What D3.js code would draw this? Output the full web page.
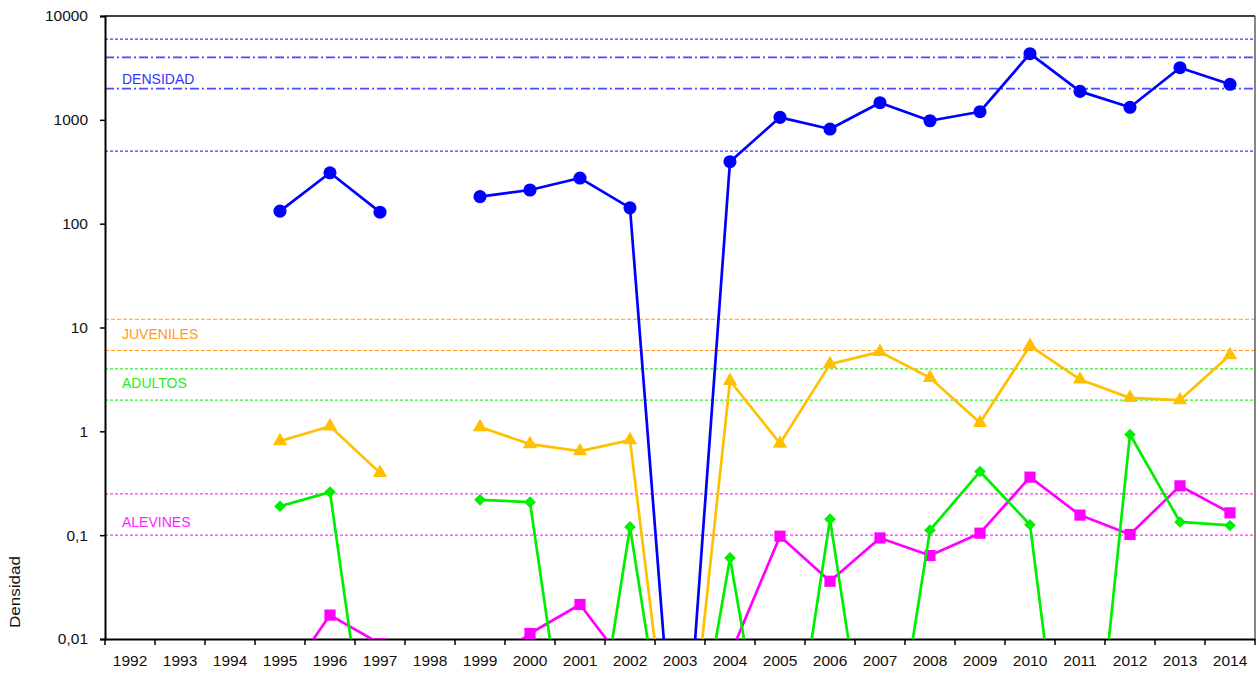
<!DOCTYPE html>
<html>
<head>
<meta charset="utf-8">
<script src="https://cdn.jsdelivr.net/npm/d3@7"></script>
<style>
  html, body { margin: 0; padding: 0; background: #fff; }
  svg { display: block; font-family: "Liberation Sans", Arial, sans-serif; }
</style>
</head>
<body>
<svg id="chart" width="1259" height="673"></svg>
<script>
// Years on the category axis
const years = ["1992","1993","1994","1995","1996","1997","1998","1999","2000","2001","2002","2003",
               "2004","2005","2006","2007","2008","2009","2010","2011","2012","2013","2014"];

// Densities per year (null = no sampling)
const densidad = [null, null, null, 132, 309, 129, null, 182, 211, 275, 142, 0.0001,
                  395, 1057, 815, 1462, 980, 1197, 4335, 1881, 1320, 3177, 2198];
const juveniles = [null, null, null, 0.805, 1.12, 0.398, null, 1.10, 0.753, 0.644, 0.823, 0.0001,
                   3.07, 0.764, 4.44, 5.83, 3.28, 1.21, 6.66, 3.16, 2.10, 2.0, 5.42];
const adultos = [null, null, null, 0.19, 0.26, 0.0001, null, 0.219, 0.208, 0.0001, 0.12, 0.0001,
                 0.0604, 0.0001, 0.1426, 0.0001, 0.1117, 0.41, 0.126, 0.00002, 0.933, 0.134, 0.124];
const alevines = [null, null, null, 0.0034, 0.017, 0.009, null, 0.005, 0.0113, 0.0215, 0.005, 0.0001,
                  0.007, 0.0978, 0.036, 0.094, 0.0637, 0.1045, 0.362, 0.156, 0.1016, 0.2985, 0.164];

// Reference levels for each class
const refDensidad = [6000, 4000, 2000, 500];
const refJuveniles = [12, 6];
const refAdultos = [4, 2];
const refAlevines = [0.25, 0.1];

// Y axis tick values and their labels
const yTicks = [0.01, 0.1, 1, 10, 100, 1000, 10000];
const yTickLabels = ["0,01", "0,1", "1", "10", "100", "1000", "10000"];

const svg = d3.select("#chart");
const pLeft = 105, pRight = 1255, pTop = 16, pBottom = 639;
const font = "'Liberation Sans', Arial, sans-serif";

const x = d3.scaleBand().domain(years).range([pLeft, pRight]).padding(0);
const y = d3.scaleLog().domain([0.01, 10000]).range([pBottom, pTop]);

svg.append("defs").append("clipPath").attr("id", "plot")
  .append("rect").attr("x", pLeft).attr("y", pTop)
  .attr("width", pRight - pLeft).attr("height", pBottom - pTop);

// Reference lines
function refLines(vals, color, dash, width) {
  svg.append("g").selectAll("line").data(vals).join("line")
    .attr("x1", pLeft).attr("x2", pRight)
    .attr("y1", d => y(d)).attr("y2", d => y(d))
    .attr("stroke", color).attr("stroke-width", width)
    .attr("stroke-dasharray", dash);
}
refLines([refDensidad[0], refDensidad[3]], "#3a3aff", "3,2", 1.3);
refLines([refDensidad[1], refDensidad[2]], "#4a4aff", "9,3,2,3", 1.7);
refLines(refJuveniles, "#ff9a1a", "4,2", 1.1);
refLines(refAdultos, "#33ee33", "3,2", 1.3);
refLines(refAlevines, "#ff33ff", "3,2", 1.3);

// Reference labels
const labels = [
  {t: "DENSIDAD", v: 2000, c: "#3333ff", dy: -5},
  {t: "JUVENILES", v: 6, c: "#ff9a1a", dy: -12},
  {t: "ADULTOS", v: 2, c: "#22ee22", dy: -12},
  {t: "ALEVINES", v: 0.1, c: "#ff22ff", dy: -8}
];
svg.append("g").selectAll("text").data(labels).join("text")
  .attr("x", 122).attr("y", d => y(d.v) + d.dy)
  .attr("fill", d => d.c).attr("font-size", 14).attr("font-family", font).text(d => d.t);

// Axes
const yAxis = d3.axisLeft(y).tickValues(yTicks)
  .tickFormat((d, i) => yTickLabels[i]).tickSize(5).tickPadding(12);
const gy = svg.append("g").attr("transform", `translate(${pLeft},0)`).call(yAxis);
gy.select(".domain").attr("stroke", "#000").attr("stroke-width", 2);
gy.selectAll(".tick line").attr("stroke", "#000").attr("stroke-width", 1.5);
gy.selectAll("text").attr("font-size", 15.5).attr("fill", "#111").attr("font-family", font);

const xAxis = d3.axisBottom(x).tickSize(0).tickPadding(16);
const gx = svg.append("g").attr("transform", `translate(0,${pBottom})`).call(xAxis);
gx.select(".domain").attr("stroke", "#000").attr("stroke-width", 2);
gx.selectAll("text").attr("font-size", 15.5).attr("fill", "#111").attr("font-family", font);
// Ticks between categories
svg.append("g").selectAll("line").data(d3.range(years.length + 1)).join("line")
  .attr("x1", i => pLeft + i * x.step()).attr("x2", i => pLeft + i * x.step())
  .attr("y1", pBottom).attr("y2", pBottom + 6)
  .attr("stroke", "#000").attr("stroke-width", 1.5);

// Frame top and right
svg.append("line").attr("x1", pLeft).attr("x2", pRight).attr("y1", pTop).attr("y2", pTop)
  .attr("stroke", "#000").attr("stroke-width", 1.3);
svg.append("line").attr("x1", pRight).attr("x2", pRight).attr("y1", pTop).attr("y2", pBottom)
  .attr("stroke", "#444").attr("stroke-width", 1.3);

// Y axis title
svg.append("text").attr("transform", "translate(20,592) rotate(-90)")
  .attr("text-anchor", "middle").attr("font-size", 14.5).attr("font-family", font)
  .attr("textLength", 72).attr("lengthAdjust", "spacingAndGlyphs")
  .attr("fill", "#111").text("Densidad");

// Series
const plot = svg.append("g").attr("clip-path", "url(#plot)");
const cx = i => x(years[i]) + x.bandwidth() / 2;
const line = d3.line().defined(d => d.v != null).x(d => cx(d.i)).y(d => y(d.v));

function series(vals, color, shape, size, rot) {
  const pts = vals.map((v, i) => ({v, i}));
  plot.append("path").datum(pts).attr("d", line)
    .attr("fill", "none").attr("stroke", color).attr("stroke-width", 2.7)
    .attr("stroke-linejoin", "round");
  plot.append("g").selectAll("path").data(pts.filter(d => d.v != null)).join("path")
    .attr("d", d3.symbol().type(shape).size(size))
    .attr("transform", d => `translate(${cx(d.i)},${y(d.v)}) rotate(${rot})`)
    .attr("fill", color);
}
series(densidad, "#0000ff", d3.symbolCircle, 135, 0);
series(juveniles, "#ffc000", d3.symbolTriangle, 90, 0);
series(alevines, "#ff00ff", d3.symbolSquare, 125, 0);
series(adultos, "#00ee00", d3.symbolSquare, 68, 45);
</script>
</body>
</html>
